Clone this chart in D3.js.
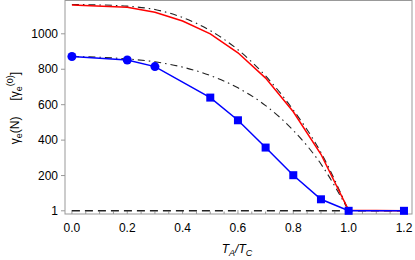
<!DOCTYPE html>
<html>
<head>
<meta charset="utf-8">
<script src="https://cdn.jsdelivr.net/npm/d3@7"></script>
<style>
  body { margin: 0; background: #fff; }
  text { font-family: "Liberation Sans", Arial, sans-serif; }
</style>
</head>
<body>
<svg id="chart" width="415" height="260"></svg>
<script>
// red curve (solid)
const redX = [0, 0.2, 0.3, 0.4, 0.5, 0.6, 0.7, 0.8, 0.9, 1.0, 1.2]
const redY = [1162, 1150, 1122, 1072, 1000, 893, 750, 560, 320, 4, 1]

// blue curve, circles then squares
const blueCircX = [0, 0.2, 0.3]
const blueCircY = [872, 852, 815]
const blueSqX = [0.5, 0.6, 0.7, 0.8, 0.9, 1.0, 1.2]
const blueSqY = [640, 512, 358, 202, 66, 1, 1]

// dash-dot reference curves
const dashX = [0, 0.1, 0.2, 0.3, 0.4, 0.5, 0.6, 0.7, 0.8, 0.9, 1.0]
const upperDashY = [1165, 1163, 1156, 1137, 1092, 1018, 910, 762, 570, 330, 1]
const lowerDashY = [872, 868, 858, 842, 812, 765, 695, 595, 455, 265, 1]

// baseline
const baseX = [0, 1.2]
const baseY = [1, 1]

const xTicks = [0, 0.2, 0.4, 0.6, 0.8, 1.0, 1.2]
const yTicks = [1, 200, 400, 600, 800, 1000]

const svg = d3.select('#chart')
const m = {left: 65, right: 412, top: 0.5, bottom: 214}

const x = d3.scaleLinear().domain([-0.025, 1.229]).range([m.left, m.right])
const y = d3.scaleLinear().domain([-17, 1188]).range([m.bottom, m.top])

const zip = (xs, ys) => xs.map((v, i) => [v, ys[i]])
const line = d3.line().x(d => x(d[0])).y(d => y(d[1]))

// frame
svg.append('rect')
    .attr('x', m.left).attr('y', m.top)
    .attr('width', m.right - m.left).attr('height', m.bottom - m.top)
    .attr('fill', 'none').attr('stroke', '#999').attr('stroke-width', 1)

// x ticks (inward) + minor
const minor = d3.range(0, 1.2001, 0.05)
svg.append('g').selectAll('line')
    .data(minor)
    .join('line')
    .attr('x1', d => x(d)).attr('x2', d => x(d))
    .attr('y1', m.bottom)
    .attr('y2', (d, i) => m.bottom - (i % 4 == 0 ? 4 : 2.5))
    .attr('stroke', '#999')

svg.append('g').selectAll('text')
    .data(xTicks)
    .join('text')
    .attr('x', d => x(d)).attr('y', 232)
    .attr('text-anchor', 'middle')
    .attr('font-size', 12)
    .text(d => d.toFixed(1))

// y ticks
svg.append('g').selectAll('line')
    .data(yTicks)
    .join('line')
    .attr('x1', m.left - 4).attr('x2', m.left)
    .attr('y1', d => y(d)).attr('y2', d => y(d))
    .attr('stroke', '#999')

svg.append('g').selectAll('text')
    .data(yTicks)
    .join('text')
    .attr('x', m.left - 7).attr('y', d => y(d) + 4)
    .attr('text-anchor', 'end')
    .attr('font-size', 12)
    .text(d => d)

// axis titles
const xt = svg.append('text')
    .attr('x', 237).attr('y', 253)
    .attr('text-anchor', 'middle')
    .attr('font-size', 12)
    .attr('font-style', 'italic')
xt.append('tspan').text('T')
xt.append('tspan').attr('font-size', 9).attr('dy', 3).text('A')
xt.append('tspan').attr('dy', -3).text('/T')
xt.append('tspan').attr('font-size', 9).attr('dy', 3).text('C')

const yt = svg.append('text')
    .attr('transform', 'translate(19,108) rotate(-90)')
    .attr('text-anchor', 'middle')
    .attr('font-size', 12)
yt.append('tspan').text('γ')
yt.append('tspan').attr('font-size', 9).attr('dy', 3).text('e')
yt.append('tspan').attr('dy', -3).text('(N)')
yt.append('tspan').attr('dx', 16).text('[γ')
yt.append('tspan').attr('font-size', 9).attr('dy', 3).text('e')
yt.append('tspan').attr('font-size', 9).attr('dy', -9).text('(0)')
yt.append('tspan').attr('dy', 6).text(']')

// baseline dashed
svg.append('path')
    .attr('d', line(zip(baseX, baseY)))
    .attr('fill', 'none').attr('stroke', '#222')
    .attr('stroke-width', 1.6)
    .attr('stroke-dasharray', '8,5')

// dash-dot curves
;[upperDashY, lowerDashY].forEach(ys => {
    svg.append('path')
        .attr('d', line.curve(d3.curveMonotoneX)(zip(dashX, ys)))
        .attr('fill', 'none').attr('stroke', '#222')
        .attr('stroke-width', 1.1)
        .attr('stroke-dasharray', '7,4,1.5,4')
})
line.curve(d3.curveLinear)

// red
svg.append('path')
    .attr('d', line(zip(redX, redY)))
    .attr('fill', 'none').attr('stroke', '#f00')
    .attr('stroke-width', 1.5)

// blue
const blueAll = zip(blueCircX.concat(blueSqX), blueCircY.concat(blueSqY))
svg.append('path')
    .attr('d', line(blueAll))
    .attr('fill', 'none').attr('stroke', '#00f')
    .attr('stroke-width', 1.5)

svg.append('g').selectAll('circle')
    .data(zip(blueCircX, blueCircY))
    .join('circle')
    .attr('cx', d => x(d[0])).attr('cy', d => y(d[1]))
    .attr('r', 4.5)
    .attr('fill', '#00f')

svg.append('g').selectAll('rect')
    .data(zip(blueSqX, blueSqY))
    .join('rect')
    .attr('x', d => x(d[0]) - 4).attr('y', d => y(d[1]) - 4)
    .attr('width', 8).attr('height', 8)
    .attr('fill', '#00f')
</script>
</body>
</html>
